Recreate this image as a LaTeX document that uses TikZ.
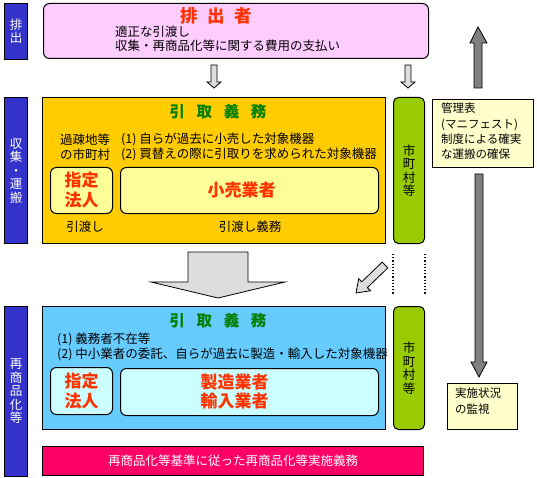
\documentclass[tikz,border=0pt]{standalone}
\usepackage{fontspec}
\setmainfont{Noto Sans CJK JP}
\usetikzlibrary{positioning}

\definecolor{stageblue}{HTML}{3333CC}
\definecolor{dischpink}{HTML}{FFCCFF}
\definecolor{dutyred}{HTML}{FF3300}
\definecolor{dutygreen}{HTML}{008000}
\definecolor{collectyellow}{HTML}{FFCC00}
\definecolor{innyellow}{HTML}{FFFF99}
\definecolor{townolive}{HTML}{99CC00}
\definecolor{notecream}{HTML}{FFFFCC}
\definecolor{recycleblue}{HTML}{66CCFF}
\definecolor{inncyan}{HTML}{CCFFFF}
\definecolor{barred}{HTML}{FF0066}
\definecolor{arrowlight}{HTML}{DDDDDD}
\definecolor{arrowdark}{HTML}{808080}

\tikzset{
  panel/.style={draw, line width=1pt, anchor=north west, inner sep=0pt},
  stage/.style={panel, fill=stageblue, text=white, align=center,
    font=\fontsize{12.5}{13.5}\selectfont},
  town/.style={panel, rounded corners=5pt, fill=townolive, align=center,
    font=\fontsize{12.5}{13.5}\selectfont},
  firmbox/.style={panel, rounded corners=6pt},
  firm/.style={inner sep=0pt, align=center, text=dutyred,
    font=\fontsize{17}{20}\selectfont\bfseries},
  dutytitle/.style={inner sep=0pt, text=dutygreen,
    font=\fontsize{15.5}{15.5}\selectfont\bfseries},
  txt/.style={inner sep=0pt, anchor=west, font=\fontsize{12.5}{15}\selectfont},
  note/.style={inner sep=0pt, anchor=north west, align=left,
    font=\fontsize{11.5}{15.3}\selectfont},
  lightarrow/.style={draw, line width=0.8pt, fill=arrowlight},
  darkarrow/.style={draw, line width=0.8pt, fill=arrowdark}
}

\begin{document}
\begin{tikzpicture}[x=1pt, y=-1pt]
\useasboundingbox (0,0) rectangle (537,478);

% stages on the left
\node[stage, minimum width=23, minimum height=56] (haishutsu) at (4,3) {排\\出};
\node[stage, minimum width=23, minimum height=146] (shuushuu) at (4,97) {収\\集\\・\\運\\搬};
\node[stage, minimum width=23, minimum height=170] (saishouhin) at (4,306) {再\\商\\品\\化\\等};

% discharger
\node[panel, rounded corners=6pt, fill=dischpink, minimum width=385, minimum height=55] (haishutsusha) at (43,3) {};
\node[inner sep=0pt, text=dutyred, font=\fontsize{17.5}{17.5}\selectfont\bfseries] (haititle) at (216,16) {排\hspace{0.55em}出\hspace{0.55em}者};
\node[txt] (hikiwatashi) at (115,32) {適正な引渡し};
\node[txt] (shiharai) at (115,46) {収集・再商品化等に関する費用の支払い};

% collection and transport
\node[panel, fill=collectyellow, minimum width=343, minimum height=146] (collect) at (42,97) {};
\node[dutytitle] (coltitle) at (218,112) {引\hspace{0.75em}取\hspace{0.75em}義\hspace{0.75em}務};
\node[inner sep=0pt, align=center, font=\fontsize{12.5}{15}\selectfont] (kaso) at (85,147) {過疎地等\\の市町村};
\node[txt] (colone) at (121,139) {(1) 自らが過去に小売した対象機器};
\node[txt] (coltwo) at (121,154) {(2) 買替えの際に引取りを求められた対象機器};
\node[firmbox, fill=innyellow, minimum width=62, minimum height=46] (shitei) at (50,167) {};
\node[firm] at (shitei.center) {指定\\法人};
\node[firmbox, fill=innyellow, minimum width=258, minimum height=46] (kouri) at (120,167) {};
\node[firm] at ([xshift=-8pt]kouri.center) {小売業者};
\node[txt, anchor=center] (watashi) at (85,227) {引渡し};
\node[txt, anchor=center] (watashigimu) at (250,227) {引渡し義務};
\node[town, minimum width=31, minimum height=146] (shichouson) at (393,97) {市\\町\\村\\等};

% recycling
\node[panel, fill=recycleblue, minimum width=343, minimum height=123] (recycle) at (42,306) {};
\node[dutytitle] (rectitle) at (218,321) {引\hspace{0.75em}取\hspace{0.75em}義\hspace{0.75em}務};
\node[txt] (recone) at (57,339) {(1) 義務者不在等};
\node[txt] (rectwo) at (57,354) {(2) 中小業者の委託、自らが過去に製造・輸入した対象機器};
\node[firmbox, fill=inncyan, minimum width=62, minimum height=47] (shitei2) at (50,367) {};
\node[firm] at (shitei2.center) {指定\\法人};
\node[firmbox, fill=inncyan, minimum width=258, minimum height=47] (seizou) at (120,368) {};
\node[firm, font=\fontsize{17}{19}\selectfont\bfseries] at ([xshift=-15pt]seizou.center) {製造業者\\輸入業者};
\node[town, minimum width=31, minimum height=123] (shichouson2) at (393,306) {市\\町\\村\\等};
\node[panel, fill=barred, text=white, minimum width=381, minimum height=29,
  font=\fontsize{12.5}{13}\selectfont] (jisshi) at (42,446) {再商品化等基準に従った再商品化等実施義務};

% notes on the right
\node[panel, fill=notecream, minimum width=101, minimum height=68] (manifest) at (432,99) {};
\node[note] (manitext) at (441,103) {管理表\\(マニフェスト)\\制度による確実\\な運搬の確保};
\node[panel, fill=notecream, minimum width=70, minimum height=46] (kanshi) at (447,383) {};
\node[note] (kanshitext) at (455,388) {実施状況\\の監視};

% dotted link between the two town columns
\draw[dotted, line width=1.2pt] ([yshift=-10pt]shichouson.south west) -- ([yshift=11pt]shichouson2.north west);
\draw[dotted, line width=1.2pt] ([yshift=-10pt]shichouson.south east) -- ([yshift=11pt]shichouson2.north east);

% block arrows
\draw[lightarrow] (211,65) -- (217,65) -- (217,82) -- (221,82) -- (214,88) -- (207,82) -- (211,82) -- cycle;
\draw[lightarrow] (405,65) -- (411,65) -- (411,82) -- (415,82) -- (408,88) -- (401,82) -- (405,82) -- cycle;
\draw[lightarrow] (188,252) -- (248,252) -- (248,282) -- (285,282) -- (218,298) -- (151,282) -- (188,282) -- cycle;
\draw[lightarrow] (387.8,267.9) -- (367.4,287.6) -- (370.5,290.8) -- (356,293) -- (358.7,278.6) -- (361.8,281.8) -- (382.2,262.1) -- cycle;
\draw[darkarrow] (474,88) -- (474,43) -- (470,43) -- (478,27) -- (487,43) -- (482,43) -- (482,88) -- cycle;
\draw[darkarrow] (475,174) -- (483,174) -- (483,362) -- (487,362) -- (479,377) -- (471,362) -- (475,362) -- cycle;

\end{tikzpicture}
\end{document}
